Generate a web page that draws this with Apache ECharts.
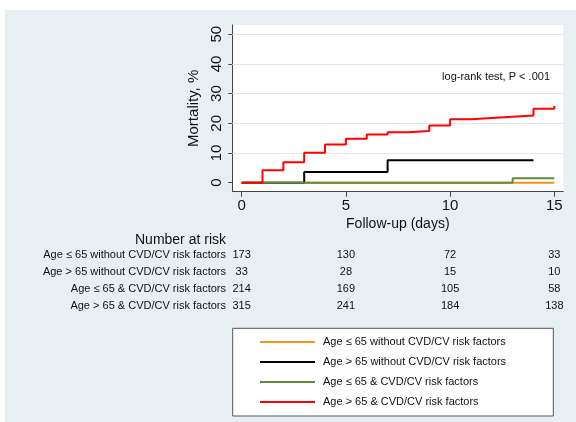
<!DOCTYPE html>
<html><head><meta charset="utf-8">
<script src="https://cdn.jsdelivr.net/npm/echarts@6/dist/echarts.min.js"></script>
<style>html,body{margin:0;padding:0;background:#fff}#c{width:576px;height:422px}</style>
</head><body><div id="c"></div>
<script>
const seriesNames = [
  'Age \u2264 65 without CVD/CV risk factors',
  'Age > 65 without CVD/CV risk factors',
  'Age \u2264 65 & CVD/CV risk factors',
  'Age > 65 & CVD/CV risk factors'
];
const seriesColors = ['#f7931e', '#000000', '#5e8c3a', '#ff0000'];
const orangeT = [0, 15];
const orangeV = [0, 0];
const blackT = [0, 3, 7, 14];
const blackV = [0, 3.6, 7.6, 7.6];
const greenT = [0, 13, 15];
const greenV = [0, 1.5, 1.5];
const redT = [0, 1, 2, 3, 4, 5, 6, 7, 8, 9, 10, 11, 12, 13, 14, 15];
const redV = [0, 4.2, 6.9, 10.1, 12.9, 14.8, 16.2, 17.0, 17.4, 19.3, 21.4, 21.8, 22.2, 22.6, 24.9, 25.8];
const xTicks = [0, 5, 10, 15];
const yTicks = [0, 10, 20, 30, 40, 50];
const gridLineValues = [10, 20, 30, 40, 50];
const riskTimes = [0, 5, 10, 15];
const riskCounts = [
  [173, 130, 72, 33],
  [33, 28, 15, 10],
  [214, 169, 105, 58],
  [315, 241, 184, 138]
];
const annotation = 'log-rank test, P < .001';

const FONT = '"Liberation Sans", Arial, Helvetica, sans-serif';
const BG = '#e8eff2';
const zip = (t, v) => t.map((x, i) => [x, v[i]]);
const seriesData = [zip(orangeT, orangeV), zip(blackT, blackV), zip(greenT, greenV), zip(redT, redV)];

const chart = echarts.init(document.getElementById('c'), null, {renderer: 'canvas'});

const series = seriesData.map((d, i) => ({
  name: seriesNames[i],
  type: 'line',
  step: 'end',
  data: d,
  symbol: 'none',
  lineStyle: {color: seriesColors[i], width: 2},
  itemStyle: {color: seriesColors[i]},
  z: 3 + i,
  animation: false
}));
series.push({
  type: 'line', data: [], silent: true, animation: false, z: 1,
  markLine: {
    silent: true, symbol: 'none', animation: false,
    label: {show: false},
    lineStyle: {color: '#dfe8eb', width: 1, type: 'solid'},
    data: gridLineValues.map(v => ({yAxis: v}))
  }
});

chart.setOption({
  backgroundColor: BG,
  animation: false,
  textStyle: {fontFamily: FONT},
  grid: {left: 232.3, top: 25, right: 12.7, bottom: 230.3, show: true, backgroundColor: '#ffffff', borderWidth: 0},
  xAxis: {
    type: 'value', min: -0.45, max: 15.43,
    name: 'Follow-up (days)', nameLocation: 'middle', nameGap: 25,
    nameTextStyle: {fontSize: 14, color: '#111', fontFamily: FONT},
    axisLine: {show: true, onZero: false, lineStyle: {color: '#444', width: 1}},
    axisTick: {show: true, customValues: xTicks, length: 5, lineStyle: {color: '#444'}},
    axisLabel: {customValues: xTicks, fontSize: 15, color: '#111', margin: 7, fontFamily: FONT},
    splitLine: {show: false}
  },
  yAxis: {
    type: 'value', min: -3.03, max: 53.1,
    name: 'Mortality, %', nameLocation: 'middle', nameGap: 28,
    nameTextStyle: {fontSize: 15, color: '#111', fontFamily: FONT},
    axisLine: {show: true, onZero: false, lineStyle: {color: '#444', width: 1}},
    axisTick: {show: true, customValues: yTicks, length: 4, lineStyle: {color: '#444'}},
    axisLabel: {customValues: yTicks, rotate: 90, fontSize: 15, color: '#111', margin: 8, fontFamily: FONT},
    splitLine: {show: false}
  },
  legend: {
    orient: 'vertical', left: 260, top: 335.5, padding: 0,
    icon: 'rect', itemWidth: 55, itemHeight: 2, itemGap: 7,
    data: seriesNames,
    textStyle: {fontSize: 11, color: '#111', fontFamily: FONT, padding: [0, 0, 0, 3], lineHeight: 13}
  },
  series: series
});

const g = [];
g.push({type: 'rect', shape: {x: 0, y: 0, width: 576, height: 10}, style: {fill: '#fff'}, z: -10});
g.push({type: 'rect', shape: {x: 0, y: 0, width: 5, height: 422}, style: {fill: '#fff'}, z: -10});
g.push({type: 'rect', shape: {x: 232.7, y: 328.3, width: 320.6, height: 87.7}, style: {fill: '#fff', stroke: '#555', lineWidth: 1}, z: -5});
g.push({type: 'text', x: 550, y: 77.3, style: {text: annotation, fontSize: 11, fontFamily: FONT, fill: '#111', align: 'right', verticalAlign: 'middle'}, z: 10});
g.push({type: 'text', x: 226, y: 240, style: {text: 'Number at risk', fontSize: 14, fontFamily: FONT, fill: '#111', align: 'right', verticalAlign: 'middle'}});
const rowY = [255, 272.3, 289.3, 305.5];
seriesNames.forEach((n, r) => {
  g.push({type: 'text', x: 226, y: rowY[r], style: {text: n, fontSize: 11, fontFamily: FONT, fill: '#111', align: 'right', verticalAlign: 'middle'}});
  riskTimes.forEach((t, c) => {
    const px = chart.convertToPixel({xAxisIndex: 0}, t);
    g.push({type: 'text', x: px, y: rowY[r], style: {text: String(riskCounts[r][c]), fontSize: 11, fontFamily: FONT, fill: '#111', align: 'center', verticalAlign: 'middle'}});
  });
});
chart.setOption({graphic: g});
</script>
</body></html>
